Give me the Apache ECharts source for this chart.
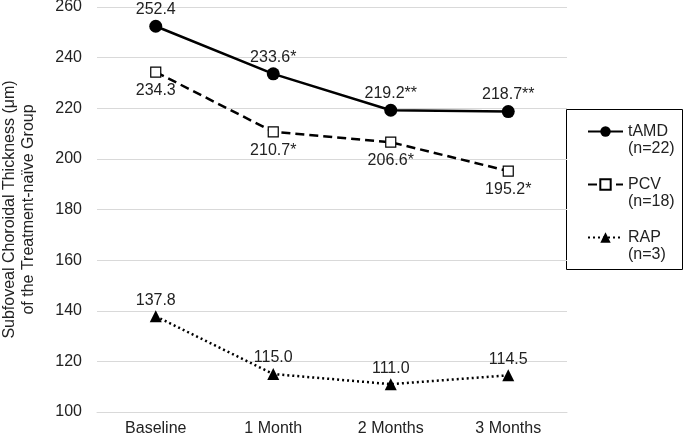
<!DOCTYPE html>
<html><head><meta charset="utf-8">
<script src="https://cdn.jsdelivr.net/npm/echarts@6/dist/echarts.min.js"></script>
<style>html,body{margin:0;padding:0;background:#fff}#c{width:685px;height:438px}</style>
</head><body><div id="c"></div>
<script>
const categories = ['Baseline', '1 Month', '2 Months', '3 Months'];
const tamdValues = [252.4, 233.6, 219.2, 218.7];
const tamdLabels = ['252.4', '233.6*', '219.2**', '218.7**'];
const pcvValues = [234.3, 210.7, 206.6, 195.2];
const pcvLabels = ['234.3', '210.7*', '206.6*', '195.2*'];
const rapValues = [137.8, 115.0, 111.0, 114.5];
const rapLabels = ['137.8', '115.0', '111.0', '114.5'];
const yTicks = [100, 120, 140, 160, 180, 200, 220, 240, 260];
const legendNames = {tAMD: '\ntAMD\n(n=22)', PCV: '\nPCV\n(n=18)', RAP: '\nRAP\n(n=3)'};

const font = 'Liberation Sans, Arial, sans-serif';
const txt = '#222';
const chart = echarts.init(document.getElementById('c'));
function lbl(arr, pos, dist) {
  return {show: true, position: pos, distance: dist, fontFamily: font, fontSize: 16, color: txt,
    formatter: p => arr[p.dataIndex]};
}
chart.setOption({
  animation: false,
  grid: {left: 97, right: 118, top: 7, bottom: 26, outerBoundsMode: 'none', containLabel: false},
  xAxis: {type: 'category', data: categories, boundaryGap: true,
    axisLine: {lineStyle: {color: '#d9d9d9', width: 1}}, axisTick: {show: false},
    axisLabel: {fontFamily: font, fontSize: 16, color: txt, margin: 9}},
  yAxis: {type: 'value', min: yTicks[0], max: yTicks[yTicks.length - 1], interval: 20,
    name: 'Subfoveal Choroidal Thickness (μm)\nof the Treatment-naïve Group',
    nameLocation: 'middle', nameGap: 59,
    nameTextStyle: {fontFamily: font, fontSize: 16, color: txt, lineHeight: 19},
    axisLine: {show: false}, axisTick: {show: false},
    axisLabel: {fontFamily: font, fontSize: 16, color: txt, margin: 15},
    splitLine: {lineStyle: {color: '#d9d9d9', width: 1}}},
  legend: {orient: 'vertical', left: 587, top: 106,
    padding: 0, itemGap: 2, itemWidth: 35, itemHeight: 13,
    formatter: n => legendNames[n],
    textStyle: {fontFamily: font, fontSize: 16, color: txt, lineHeight: 17},
    data: ['tAMD', 'PCV', 'RAP']},
  graphic: [{type: 'rect', shape: {x: 566.5, y: 109.5, width: 116, height: 160},
    style: {fill: 'none', stroke: '#000', lineWidth: 1}}],
  series: [
    {name: 'tAMD', type: 'line', data: tamdValues, symbol: 'circle', symbolSize: 13,
      itemStyle: {color: '#000'}, lineStyle: {color: '#000', width: 2.5, type: 'solid'},
      label: lbl(tamdLabels, 'top', 2)},
    {name: 'PCV', type: 'line', data: pcvValues, symbol: 'rect', symbolSize: 10,
      itemStyle: {color: '#fff', borderColor: '#000', borderWidth: 1.2},
      lineStyle: {color: '#000', width: 2.5, type: [9, 5]},
      label: lbl(pcvLabels, 'bottom', 5)},
    {name: 'RAP', type: 'line', data: rapValues, symbol: 'triangle', symbolSize: 12,
      itemStyle: {color: '#000'}, lineStyle: {color: '#000', width: 2.5, type: [2, 3]},
      label: lbl(rapLabels, 'top', 2)}
  ]
});
</script></body></html>
